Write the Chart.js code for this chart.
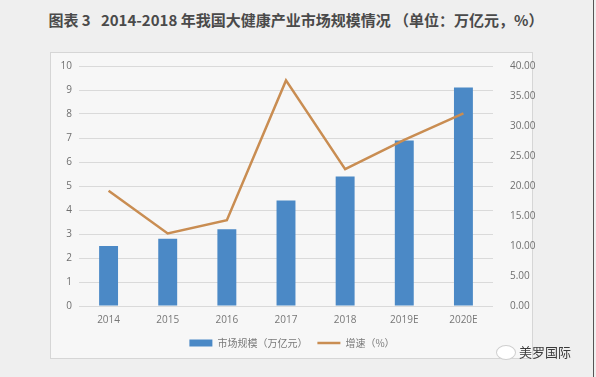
<!DOCTYPE html>
<html>
<head>
<meta charset="utf-8">
<script src="https://cdn.jsdelivr.net/npm/chart.js@4"></script>
<style>
  html, body { margin: 0; padding: 0; }
  body { width: 596px; height: 377px; background: #efefef; position: relative; overflow: hidden; font-family: "Noto Sans CJK SC", sans-serif; }
  #title { position: absolute; left: 0; top: 9px; width: 592px; text-align: center; font-size: 15px; font-weight: bold; color: #4a4a4a; white-space: pre; }
  #box { position: absolute; left: 50px; top: 52px; width: 483px; height: 307px; background: #f7f7f7; border: 1px solid #d6d6d6; box-sizing: border-box; }
  #chartWrap { position: absolute; left: 0; top: 0; width: 596px; height: 377px; }
  #mark { position: absolute; left: 519px; top: 342px; font-size: 13px; color: #3a3a3a; }
  #icon { position: absolute; left: 496px; top: 345px; width: 18px; height: 13px; border-radius: 50%; background: #fff; border: 1px solid #cfcfcf; }
  #edge { position: absolute; right: 2px; top: 0; width: 1px; height: 377px; background: #555; }
</style>
</head>
<body>
<div id="title">图表 3   2014-2018 年我国大健康产业市场规模情况 （单位：万亿元，%）</div>
<div id="box"></div>
<div id="chartWrap"><canvas id="c" width="596" height="377"></canvas></div>
<div id="icon"></div>
<div id="mark">美罗国际</div>
<div id="edge"></div>
<script>
const categories = ["2014", "2015", "2016", "2017", "2018", "2019E", "2020E"];
const marketSize = [2.5, 2.8, 3.2, 4.4, 5.4, 6.9, 9.1];
const growthRate = [19.2, 12.1, 14.3, 37.6, 22.8, 27.7, 32.1];
const leftTicks = [0, 1, 2, 3, 4, 5, 6, 7, 8, 9, 10];
const rightTicks = [0, 5, 10, 15, 20, 25, 30, 35, 40];

const tickFont = { family: "'Open Sans', sans-serif", size: 10 };

new Chart(document.getElementById("c"), {
  data: {
    labels: categories,
    datasets: [
      {
        type: "line",
        label: "增速（%）",
        data: growthRate,
        yAxisID: "y1",
        borderColor: "#c98d52",
        backgroundColor: "#c98d52",
        borderWidth: 2.5,
        pointRadius: 0,
        pointStyle: "line",
        tension: 0,
        order: 0,
      },
      {
        type: "bar",
        label: "市场规模（万亿元）",
        data: marketSize,
        yAxisID: "y",
        backgroundColor: "#4b89c6",
        borderWidth: 0,
        barPercentage: 0.32,
        categoryPercentage: 1,
        pointStyle: "rect",
        order: 1,
      },
    ],
  },
  options: {
    responsive: false,
    animation: false,
    layout: { padding: { left: 49, right: 61, top: 66, bottom: 19 } },
    plugins: {
      tooltip: { enabled: false },
      legend: {
        position: "bottom",
        reverse: true,
        labels: {
          usePointStyle: true,
          pointStyleWidth: 23,
          boxHeight: 7,
          color: "#7a7a7a",
          font: { family: "'Noto Sans CJK SC', sans-serif", size: 10 },
          padding: 10,
        },
      },
    },
    scales: {
      x: {
        grid: { display: false },
        border: { display: false },
        ticks: { color: "#777777", font: tickFont, padding: 0 },
        afterFit: (s) => { s.height = 22; },
      },
      y: {
        position: "left",
        min: 0,
        max: 10,
        afterBuildTicks: (s) => { s.ticks = leftTicks.map((v) => ({ value: v })); },
        grid: { color: "#dadada", lineWidth: 1, drawTicks: false },
        border: { display: false },
        ticks: { color: "#6f6f6f", font: tickFont, padding: 7 },
        afterFit: (s) => { s.width = 30; },
      },
      y1: {
        position: "right",
        min: 0,
        max: 40,
        afterBuildTicks: (s) => { s.ticks = rightTicks.map((v) => ({ value: v })); },
        grid: { display: false },
        border: { display: false },
        ticks: { color: "#6f6f6f", font: tickFont, padding: 9, callback: (v) => Number(v).toFixed(2) },
        afterFit: (s) => { s.width = 42; },
      },
    },
  },
});
</script>
</body>
</html>
